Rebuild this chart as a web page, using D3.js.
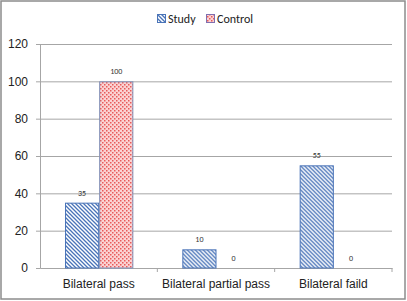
<!DOCTYPE html>
<html lang="en">
<head>
    <meta charset="UTF-8">
    <title>Study vs Control</title>
    <script src="https://d3js.org/d3.v7.min.js"></script>
    <style>
        body { margin: 0; background: #fff; }
        svg { display: block; font-family: Carlito, "Liberation Sans", Calibri, sans-serif; }
    </style>
</head>
<body>
<svg id="chart"></svg>
<script>
    const categories = ["Bilateral pass", "Bilateral partial pass", "Bilateral faild"];
    const seriesNames = ["Study", "Control"];
    const studyValues = [35, 10, 55];
    const controlValues = [100, 0, 0];
    const yTicks = [0, 20, 40, 60, 80, 100, 120];

    const width = 407, height = 301;
    const margin = {top: 44, right: 15, bottom: 33, left: 40};
    const innerW = width - margin.left - margin.right;
    const innerH = height - margin.top - margin.bottom;

    const svg = d3.select("#chart").attr("width", width).attr("height", height);

    // patterns
    const defs = svg.append("defs");
    const hatch = defs.append("pattern")
        .attr("id", "hatch").attr("patternUnits", "userSpaceOnUse")
        .attr("width", 4).attr("height", 4);
    hatch.append("rect").attr("width", 4).attr("height", 4).attr("fill", "#fff");
    hatch.append("path").attr("d", "M-1,-1 L5,5 M-1,3 L1,5 M3,-1 L5,1")
        .attr("stroke", "#4a74b8").attr("stroke-width", 1.3);

    const check = defs.append("pattern")
        .attr("id", "check").attr("patternUnits", "userSpaceOnUse")
        .attr("width", 4).attr("height", 4);
    check.append("rect").attr("width", 4).attr("height", 4).attr("fill", "#fbd3d3");
    check.append("rect").attr("x", 0).attr("y", 0).attr("width", 1.5).attr("height", 1.5).attr("fill", "#e85a5a");
    check.append("rect").attr("x", 2).attr("y", 2).attr("width", 1.5).attr("height", 1.5).attr("fill", "#e85a5a");

    // frame
    svg.append("rect").attr("x", 1).attr("y", 1).attr("width", width - 3).attr("height", height - 3)
        .attr("fill", "none").attr("stroke", "#8c8c8c").attr("stroke-width", 1.5);

    const g = svg.append("g").attr("transform", "translate(" + margin.left + "," + margin.top + ")");

    const x = d3.scaleBand().domain(categories).range([0, innerW]).paddingInner(0).paddingOuter(0);
    const xSub = d3.scaleBand().domain(seriesNames).range([25, x.bandwidth() - 24]);
    const y = d3.scaleLinear().domain([0, 120]).range([innerH, 0]);

    // gridlines
    g.selectAll(".grid").data(yTicks.filter(d => d > 0)).enter().append("line")
        .attr("x1", 0).attr("x2", innerW)
        .attr("y1", d => y(d) + 0.5).attr("y2", d => y(d) + 0.5)
        .attr("stroke", "#a6a6a6").attr("stroke-width", 1);

    // y axis
    const yAxis = g.append("g").call(d3.axisLeft(y).tickValues(yTicks).tickSize(4).tickPadding(8));
    yAxis.select(".domain").attr("stroke", "#a6a6a6");
    yAxis.selectAll(".tick line").attr("stroke", "#a6a6a6");
    yAxis.selectAll("text").attr("font-size", 12).attr("fill", "#222");

    // x axis
    const xAxis = g.append("g").attr("transform", "translate(0," + innerH + ")")
        .call(d3.axisBottom(x).tickSize(0).tickPadding(11));
    xAxis.select(".domain").attr("stroke", "#a6a6a6");
    xAxis.selectAll("text").attr("font-size", 12).attr("fill", "#222");
    xAxis.selectAll(".sep").data(categories).enter().append("line")
        .attr("x1", d => x(d) + x.bandwidth()).attr("x2", d => x(d) + x.bandwidth())
        .attr("y1", 0).attr("y2", 4).attr("stroke", "#a6a6a6");

    const rows = categories.map((c, i) => ({cat: c, values: [
        {s: "Study", v: studyValues[i]},
        {s: "Control", v: controlValues[i]}
    ]}));

    const groups = g.selectAll(".grp").data(rows).enter().append("g")
        .attr("transform", d => "translate(" + x(d.cat) + ",0)");

    groups.selectAll("rect").data(d => d.values.filter(v => v.v > 0)).enter().append("rect")
        .attr("x", d => xSub(d.s) + 0.5)
        .attr("y", d => y(d.v) + 0.5)
        .attr("width", xSub.bandwidth() - 1)
        .attr("height", d => y(0) - y(d.v) - 0.5)
        .attr("fill", d => d.s === "Study" ? "url(#hatch)" : "url(#check)")
        .attr("stroke", d => d.s === "Study" ? "#4a74b8" : "#7f8fb8")
        .attr("stroke-width", 1);

    groups.selectAll(".lbl").data(d => d.values).enter().append("text")
        .attr("x", d => xSub(d.s) + xSub.bandwidth() / 2)
        .attr("y", d => y(d.v) - 7)
        .attr("text-anchor", "middle")
        .attr("font-size", 8).attr("fill", "#333")
        .text(d => d.v);

    // legend
    const legend = svg.append("g").attr("transform", "translate(157,14)");
    const items = [{s: "Study", fill: "url(#hatch)", stroke: "#4a74b8", x: 0},
                   {s: "Control", fill: "url(#check)", stroke: "#7f6fb0", x: 49}];
    items.forEach(it => {
        legend.append("rect").attr("x", it.x + 0.5).attr("y", 0.5).attr("width", 8).attr("height", 8)
            .attr("fill", it.fill).attr("stroke", it.stroke);
        legend.append("text").attr("x", it.x + 11).attr("y", 9)
            .attr("font-size", 12).attr("fill", "#222").text(it.s);
    });
</script>
</body>
</html>
